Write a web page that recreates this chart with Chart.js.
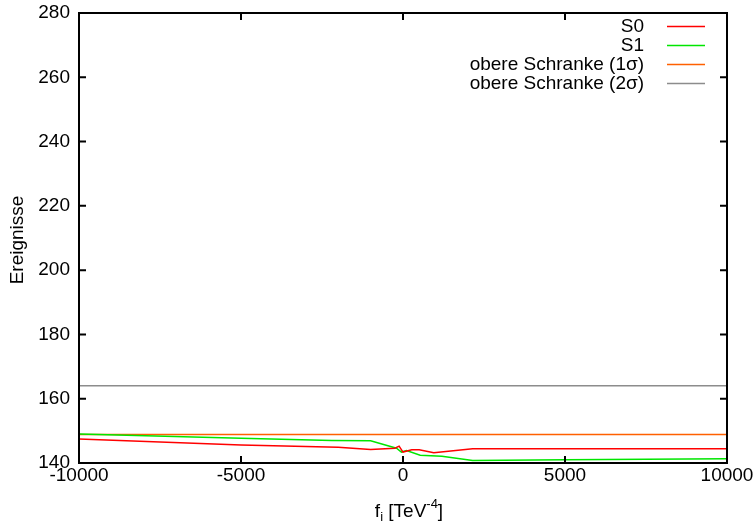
<!DOCTYPE html>
<html>
<head>
<meta charset="utf-8">
<script src="https://cdn.jsdelivr.net/npm/chart.js@4"></script>
<style>
  html, body { margin: 0; padding: 0; background: #fff; }
</style>
</head>
<body>
<canvas id="chartLines" width="755" height="527"></canvas>
<script>
// axis ranges and ticks
const xMin = -10000, xMax = 10000;
const yMin = 140, yMax = 280;
const xTicks = [-10000, -5000, 0, 5000, 10000];
const yTicks = [140, 160, 180, 200, 220, 240, 260, 280];

// S0
const s0X = [-10000, -5000, -2000, -1000, -250, -120, 0, 270, 500, 950, 2150, 5000, 10000];
const s0Y = [147.5, 145.6, 144.9, 144.2, 144.6, 145.25, 143.4, 144.1, 144.1, 143.2, 144.45, 144.45, 144.45];
// S1
const s1X = [-10000, -5000, -2200, -1000, -200, -50, 110, 530, 1200, 2150, 5000, 10000];
const s1Y = [149.0, 147.7, 147.0, 146.9, 144.6, 143.4, 143.9, 142.4, 142.1, 140.8, 141.0, 141.3];
// upper bounds
const bound1 = 148.9;
const bound2 = 164.0;

const seriesLabels = ['S0', 'S1', 'obere Schranke (1\u03c3)', 'obere Schranke (2\u03c3)'];
const seriesColors = ['rgb(255,0,0)', 'rgb(0,230,0)', 'rgb(255,96,0)', 'rgb(140,140,140)'];

const FONT = '"Liberation Sans", Arial, sans-serif';
const FS = 19;

function toPoints(xs, ys) {
  return xs.map((x, i) => ({ x: x, y: ys[i] }));
}

// no extra room for overhanging tick labels, the layout padding decides
function noOverhang(s) {
  s.paddingLeft = 0; s.paddingRight = 0;
  s.paddingTop = 0; s.paddingBottom = 0;
}

// frame, inner ticks, axis titles, legend (gnuplot look)
const gnuplotFrame = {
  id: 'gnuplotFrame',
  afterDraw(chart) {
    const ctx = chart.ctx;
    const a = chart.chartArea;
    const xs = chart.scales.x;
    const ys = chart.scales.y;
    ctx.save();
    ctx.strokeStyle = '#000';
    ctx.lineWidth = 2;
    ctx.strokeRect(a.left, a.top, a.right - a.left, a.bottom - a.top);

    const tl = 7;
    ctx.beginPath();
    xTicks.forEach(v => {
      const px = xs.getPixelForValue(v);
      ctx.moveTo(px, a.bottom); ctx.lineTo(px, a.bottom - tl);
      ctx.moveTo(px, a.top); ctx.lineTo(px, a.top + tl);
    });
    yTicks.forEach(v => {
      const py = ys.getPixelForValue(v);
      ctx.moveTo(a.left, py); ctx.lineTo(a.left + tl, py);
      ctx.moveTo(a.right, py); ctx.lineTo(a.right - tl, py);
    });
    ctx.stroke();

    // y title
    ctx.fillStyle = '#000';
    ctx.font = FS + 'px ' + FONT;
    ctx.save();
    ctx.translate(18, 240);
    ctx.rotate(-Math.PI / 2);
    ctx.textAlign = 'center';
    ctx.textBaseline = 'middle';
    ctx.fillText('Ereignisse', 0, 0);
    ctx.restore();

    // x title: f_i [TeV^-4]
    const base = 517;
    const big = FS + 'px ' + FONT, small = '13px ' + FONT;
    ctx.textBaseline = 'alphabetic';
    ctx.textAlign = 'left';
    ctx.font = big; const w1 = ctx.measureText('f').width;
    ctx.font = small; const w2 = ctx.measureText('i').width;
    ctx.font = big; const w3 = ctx.measureText(' [TeV').width;
    ctx.font = small; const w4 = ctx.measureText('-4').width;
    ctx.font = big; const w5 = ctx.measureText(']').width;
    let x = (a.left + a.right) / 2 + 6 - (w1 + w2 + w3 + w4 + w5) / 2;
    ctx.font = big; ctx.fillText('f', x, base); x += w1;
    ctx.font = small; ctx.fillText('i', x, base + 4); x += w2;
    ctx.font = big; ctx.fillText(' [TeV', x, base); x += w3;
    ctx.font = small; ctx.fillText('-4', x, base - 9); x += w4;
    ctx.font = big; ctx.fillText(']', x, base);

    // legend
    ctx.font = FS + 'px ' + FONT;
    ctx.textAlign = 'right';
    ctx.textBaseline = 'middle';
    chart.data.datasets.forEach((ds, i) => {
      const y = 26.5 + i * 19;
      ctx.fillStyle = '#000';
      ctx.fillText(ds.label, 644, y);
      ctx.strokeStyle = ds.borderColor;
      ctx.lineWidth = 1.5;
      ctx.beginPath();
      ctx.moveTo(667, y);
      ctx.lineTo(705, y);
      ctx.stroke();
    });
    ctx.restore();
  }
};

const datasets = [
  { label: seriesLabels[0], data: toPoints(s0X, s0Y), borderColor: seriesColors[0] },
  { label: seriesLabels[1], data: toPoints(s1X, s1Y), borderColor: seriesColors[1] },
  { label: seriesLabels[2], data: toPoints([xMin, xMax], [bound1, bound1]), borderColor: seriesColors[2] },
  { label: seriesLabels[3], data: toPoints([xMin, xMax], [bound2, bound2]), borderColor: seriesColors[3] }
].map(ds => Object.assign(ds, { borderWidth: 1.5, pointRadius: 0, tension: 0, fill: false }));

const chartLines = new Chart(document.getElementById('chartLines'), {
  type: 'line',
  data: { datasets: datasets },
  options: {
    responsive: false,
    animation: false,
    devicePixelRatio: 1,
    layout: { padding: { top: 13, right: 28, left: 0, bottom: 0 } },
    plugins: {
      legend: { display: false },
      tooltip: { enabled: false }
    },
    scales: {
      x: {
        type: 'linear',
        min: xMin,
        max: xMax,
        afterBuildTicks: s => { s.ticks = xTicks.map(v => ({ value: v })); },
        afterFit: s => { s.height = 64; noOverhang(s); },
        grid: { display: false, drawTicks: false },
        border: { display: false },
        ticks: {
          color: '#000',
          padding: 1,
          maxRotation: 0,
          autoSkip: false,
          font: { family: FONT, size: FS },
          callback: v => String(v)
        }
      },
      y: {
        type: 'linear',
        min: yMin,
        max: yMax,
        afterBuildTicks: s => { s.ticks = yTicks.map(v => ({ value: v })); },
        afterFit: s => { s.width = 79; noOverhang(s); },
        grid: { display: false, drawTicks: false },
        border: { display: false },
        ticks: {
          color: '#000',
          padding: 9,
          autoSkip: false,
          font: { family: FONT, size: FS },
          callback: v => String(v)
        }
      }
    }
  },
  plugins: [gnuplotFrame]
});
</script>
</body>
</html>
